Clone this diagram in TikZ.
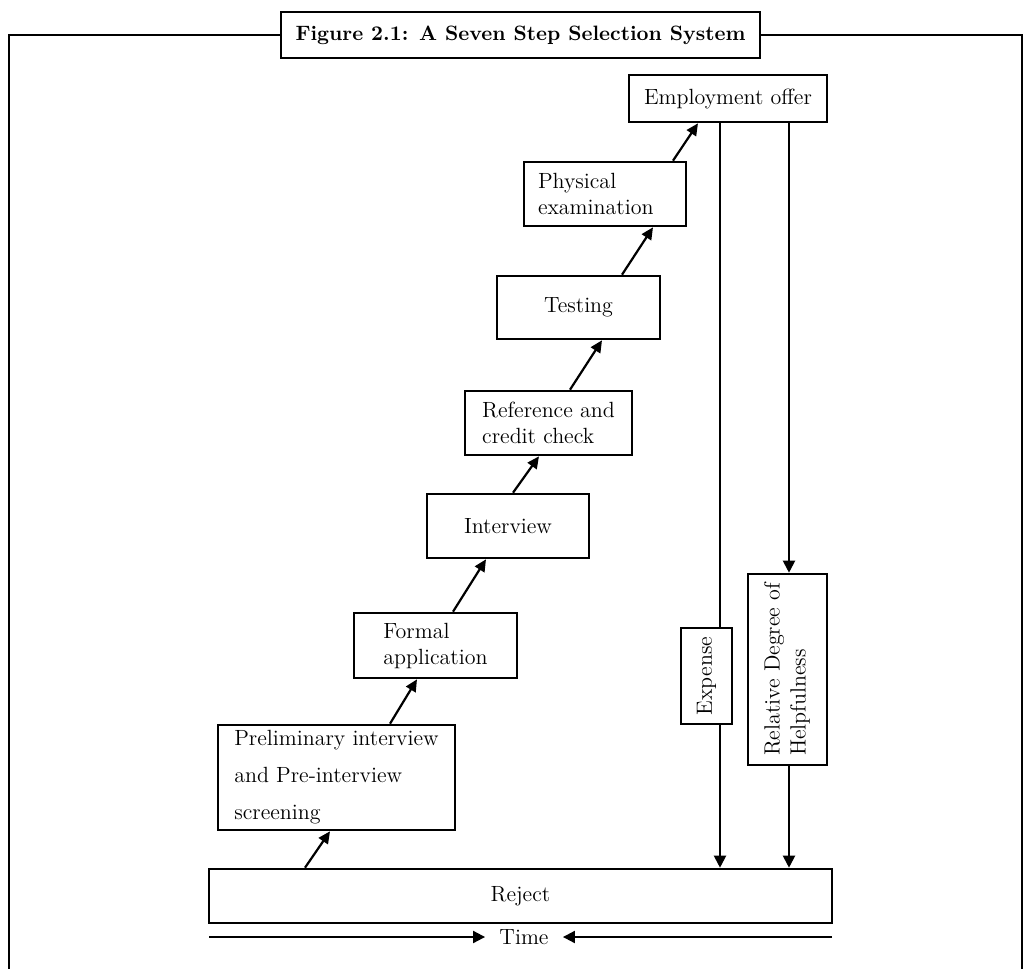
\documentclass[tikz,border=0pt]{standalone}
\usetikzlibrary{arrows.meta}
\begin{document}
\begin{tikzpicture}[x=0.5pt,y=-0.5pt,
  stepbox/.style={draw, line width=1.3pt, fill=white, inner sep=0pt,
    font=\fontsize{11}{13}\selectfont, align=center},
  link/.style={line width=1.1pt, -{Triangle[length=6pt,width=5.5pt]}},
  vlink/.style={line width=1pt, -{Triangle[length=6pt,width=6pt]}},
  plain/.style={line width=1pt},
  frameline/.style={line width=1.3pt}
]
\useasboundingbox (0,0) rectangle (1029,969);

% title and frame
\node[draw, line width=1.4pt, fill=white, minimum width=239.5pt, minimum height=23pt,
      inner sep=0pt, font=\fontsize{10.4}{12}\selectfont\bfseries] (title) at (520.5,35)
      {Figure 2.1: A Seven Step Selection System};
\draw[frameline] (title.west) -| (9,969);
\draw[frameline] (title.east) -| (1022,969);

% steps
\node[stepbox, minimum width=99pt, minimum height=23.5pt] (emp) at (728,98.5) {Employment offer};
\node[stepbox, text width=67pt, inner xsep=7pt, align=left, minimum height=32pt] (phy) at (605,194) {Physical\\examination};
\node[stepbox, minimum width=81.5pt, minimum height=31.5pt] (test) at (578.5,307.5) {Testing};
\node[stepbox, align=left, minimum width=83.5pt, minimum height=32pt] (ref) at (548.5,423) {Reference and\\credit check};
\node[stepbox, minimum width=81pt, minimum height=32pt] (int) at (508,526) {Interview};
\node[stepbox, align=left, minimum width=81.5pt, minimum height=32.5pt] (form) at (435.5,645.5) {Formal\\application};
\node[stepbox, align=left, minimum width=118.5pt, minimum height=52.5pt,
      font=\fontsize{11}{18.5}\selectfont] (pre) at (336.5,777.5)
      {Preliminary interview\\and Pre-interview\\screening};
\node[stepbox, minimum width=311.5pt, minimum height=27pt] (rej) at (520.5,896) {Reject};

% diagonal arrows
\draw[link] (rej.north -| 305,0) -- (pre.south -| 330,0);
\draw[link] (pre.north -| 390,0) -- (form.south -| 417,0);
\draw[link] (form.north -| 453,0) -- (int.south -| 486,0);
\draw[link] (int.north -| 513,0) -- (ref.south -| 539,0);
\draw[link] (ref.north -| 570,0) -- (test.south -| 602,0);
\draw[link] (test.north -| 622,0) -- (phy.south -| 653,0);
\draw[link] (phy.north -| 673,0) -- (emp.south -| 698,0);

% expense line (behind its box)
\draw[vlink] (emp.south -| 720,0) -- (rej.north -| 720,0);
\node[stepbox, minimum width=25.5pt, minimum height=48pt] (exp) at (706.5,676)
      {\rotatebox{90}{Expense}};

% relative degree of helpfulness
\node[stepbox, minimum width=39.5pt, minimum height=95.5pt] (rel) at (787.5,669.5)
      {\rotatebox{90}{\begin{tabular}{@{}l@{}}Relative Degree of\\Helpfulness\end{tabular}}};
\draw[vlink] (emp.south -| 789,0) -- (rel.north -| 789,0);
\draw[vlink] (rel.south -| 789,0) -- (rej.north -| 789,0);

% time axis
\coordinate (tl) at (209,937);
\coordinate (tr) at (832,937);
\node[inner xsep=7pt, inner ysep=0pt, font=\fontsize{11}{13}\selectfont] (time) at (524,937) {Time};
\draw[vlink] (tl) -- (time.west);
\draw[vlink] (tr) -- (time.east);
\end{tikzpicture}
\end{document}
